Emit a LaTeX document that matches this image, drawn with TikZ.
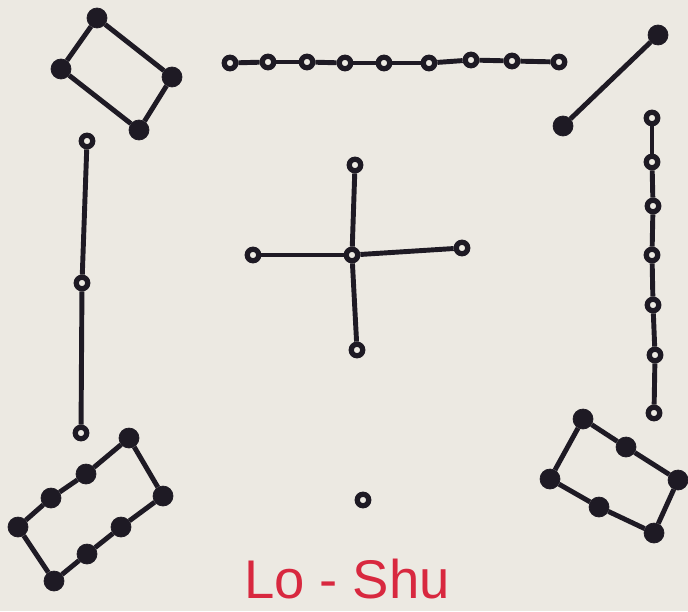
\documentclass[tikz,border=0pt]{standalone}
\usepackage{fontspec}
\setmainfont{Liberation Sans}
\definecolor{paper}{HTML}{ECE9E2}
\definecolor{ink}{HTML}{1E1A24}
\definecolor{redink}{HTML}{D8283F}

\begin{document}
\begin{tikzpicture}[x=0.02cm, y=-0.02cm,
  yin/.style={circle, fill=ink, draw=ink, minimum size=4mm, inner sep=0pt},
  yang/.style={circle, fill=paper, draw=ink, line width=3pt, minimum size=2.3mm, inner sep=0pt},
  edge/.style={draw=ink, line width=2.8pt},
  title/.style={font=\fontsize{31}{34}\selectfont, text=redink, anchor=base, inner sep=0pt},
]

\fill[paper] (0,0) rectangle (688,611);
\useasboundingbox (0,0) rectangle (688,611);

% four (top left)
\node[yin] (f1) at (97,18) {};
\node[yin] (f2) at (172,77) {};
\node[yin] (f3) at (139,130) {};
\node[yin] (f4) at (61,69) {};

% nine (top)
\node[yang] (n1) at (230,63) {};
\node[yang] (n2) at (268,62) {};
\node[yang] (n3) at (307,62) {};
\node[yang] (n4) at (345,63) {};
\node[yang] (n5) at (384,63) {};
\node[yang] (n6) at (429,63) {};
\node[yang] (n7) at (471,60) {};
\node[yang] (n8) at (512,61) {};
\node[yang] (n9) at (559,62) {};

% two (top right)
\node[yin] (t1) at (658,35) {};
\node[yin] (t2) at (563,126) {};

% three (left)
\node[yang] (h1) at (87,141) {};
\node[yang] (h2) at (82,283) {};
\node[yang] (h3) at (81,433) {};

% five (centre)
\node[yang] (c0) at (352,255) {};
\node[yang] (c1) at (355,165) {};
\node[yang] (c2) at (253,255) {};
\node[yang] (c3) at (462,248) {};
\node[yang] (c4) at (357,350) {};

% seven (right)
\node[yang] (s1) at (652,118) {};
\node[yang] (s2) at (652,162) {};
\node[yang] (s3) at (653,206) {};
\node[yang] (s4) at (652,255) {};
\node[yang] (s5) at (653,305) {};
\node[yang] (s6) at (655,355) {};
\node[yang] (s7) at (654,413) {};

% eight (bottom left)
\node[yin] (e1) at (129,438) {};
\node[yin] (e2) at (86,474) {};
\node[yin] (e3) at (51,498) {};
\node[yin] (e4) at (18,527) {};
\node[yin] (e5) at (54,581) {};
\node[yin] (e6) at (87,554) {};
\node[yin] (e7) at (121,527) {};
\node[yin] (e8) at (163,496) {};

% one (bottom)
\node[yang] (o1) at (363,500) {};

% six (bottom right)
\node[yin] (x1) at (583,419) {};
\node[yin] (x2) at (626,447) {};
\node[yin] (x3) at (678,480) {};
\node[yin] (x4) at (654,533) {};
\node[yin] (x5) at (599,507) {};
\node[yin] (x6) at (550,479) {};

\draw[edge] (f1) -- (f2) -- (f3) -- (f4) -- (f1);
\draw[edge] (n1) -- (n2);
\draw[edge] (n2) -- (n3);
\draw[edge] (n3) -- (n4);
\draw[edge] (n4) -- (n5);
\draw[edge] (n5) -- (n6);
\draw[edge] (n6) -- (n7);
\draw[edge] (n7) -- (n8);
\draw[edge] (n8) -- (n9);
\draw[edge] (t1) -- (t2);
\draw[edge] (h1) -- (h2);
\draw[edge] (h2) -- (h3);
\draw[edge] (c0) -- (c1);
\draw[edge] (c0) -- (c2);
\draw[edge] (c0) -- (c3);
\draw[edge] (c0) -- (c4);
\draw[edge] (s1) -- (s2);
\draw[edge] (s2) -- (s3);
\draw[edge] (s3) -- (s4);
\draw[edge] (s4) -- (s5);
\draw[edge] (s5) -- (s6);
\draw[edge] (s6) -- (s7);
\draw[edge] (e1) -- (e2) -- (e3) -- (e4) -- (e5) -- (e6) -- (e7) -- (e8) -- (e1);
\draw[edge] (x1) -- (x2) -- (x3) -- (x4) -- (x5) -- (x6) -- (x1);

\node[title] (name) at (347,598) {Lo - Shu};

\end{tikzpicture}
\end{document}
